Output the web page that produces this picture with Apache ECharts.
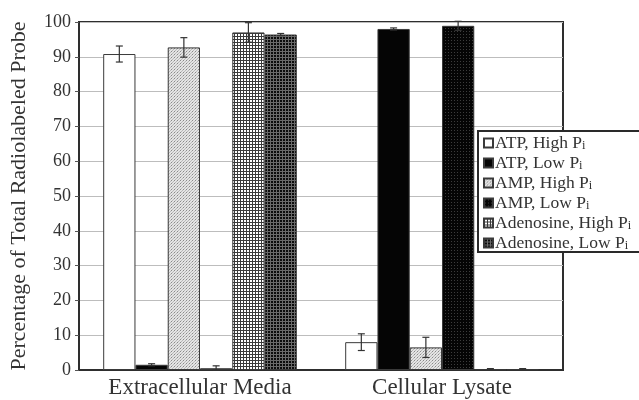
<!DOCTYPE html>
<html>
<head>
<meta charset="utf-8">
<script src="https://cdn.jsdelivr.net/npm/echarts@6/dist/echarts.min.js"></script>
<style>
html,body{margin:0;padding:0;background:#fff;}
#chart{width:639px;height:400px;}
</style>
</head>
<body>
<div id="chart"></div>
<script>
// Fractions (%) of radiolabeled probe recovered, per fraction and treatment
const categories = ['Extracellular Media', 'Cellular Lysate'];
const seriesNames = ['ATP, High P', 'ATP, Low P', 'AMP, High P', 'AMP, Low P', 'Adenosine, High P', 'Adenosine, Low P'];
const atpHigh   = [90.8, 8.0];
const atpLow    = [1.5, 98.0];
const ampHigh   = [92.7, 6.5];
const ampLow    = [0.5, 98.9];
const adenHigh  = [97.0, 0.2];
const adenLow   = [96.4, 0.2];
const atpHighErr  = [2.3, 2.4];
const atpLowErr   = [0.3, 0.3];
const ampHighErr  = [2.8, 2.9];
const ampLowErr   = [0.7, 1.3];
const adenHighErr = [2.8, 0.2];
const adenLowErr  = [0.3, 0.2];
const yTicks = [0, 10, 20, 30, 40, 50, 60, 70, 80, 90, 100];

const values = [atpHigh, atpLow, ampHigh, ampLow, adenHigh, adenLow];
const errors = [atpHighErr, atpLowErr, ampHighErr, ampLowErr, adenHighErr, adenLowErr];

// small repeating fill textures
function makePattern(w, h, bg, draw) {
  const c = document.createElement('canvas');
  c.width = w; c.height = h;
  const g = c.getContext('2d');
  g.fillStyle = bg; g.fillRect(0, 0, w, h);
  draw(g);
  return { image: c, repeat: 'repeat' };
}
const stipple = makePattern(3, 3, '#e4e4e4', g => {
  g.fillStyle = '#8a8a8a'; g.fillRect(0, 0, 1, 1);
  g.fillStyle = '#b8b8b8'; g.fillRect(2, 1, 1, 1); g.fillRect(1, 2, 1, 1);
});
const lightGrid = makePattern(3, 3, '#ffffff', g => {
  g.fillStyle = '#3a3a3a'; g.fillRect(0, 0, 3, 1); g.fillRect(0, 0, 1, 3);
});
const darkGrid = makePattern(3, 3, '#0c0c0c', g => {
  g.fillStyle = '#6a6a6a'; g.fillRect(0, 0, 3, 1); g.fillRect(0, 0, 1, 3);
});
const darkDots = makePattern(3, 3, '#050505', g => {
  g.fillStyle = '#3c3c3c'; g.fillRect(1, 1, 1, 1);
});
const fills = ['#ffffff', '#050505', stipple, darkDots, lightGrid, darkGrid];

const GAP = 0.2; // barCategoryGap
const SERIF = '"Liberation Serif", "DejaVu Serif", serif';
const series = [];
seriesNames.forEach((name, i) => {
  series.push({
    name: name,
    type: 'bar',
    data: values[i],
    barGap: '0%',
    barCategoryGap: '20%',
    itemStyle: { color: fills[i], borderColor: '#3a3a3a', borderWidth: 1 },
    emphasis: { disabled: true }
  });
});
// error bars drawn on top of each bar
seriesNames.forEach((name, i) => {
  series.push({
    type: 'custom',
    name: name + ' err',
    z: 5,
    data: values[i].map((v, k) => [k, v, errors[i][k]]),
    renderItem: function (params, api) {
      const k = api.value(0), v = api.value(1), e = api.value(2);
      const band = api.size([1, 0])[0];
      const bw = band * (1 - GAP) / 6;
      const center = api.coord([k, 0])[0];
      const x = center - band * (1 - GAP) / 2 + bw * (i + 0.5);
      const yTop = api.coord([k, v + e])[1];
      const yBot = api.coord([k, Math.max(v - e, 0)])[1];
      const cap = 3.5;
      const st = { stroke: '#333', lineWidth: 1.2, fill: null };
      return {
        type: 'group',
        children: [
          { type: 'line', shape: { x1: x, y1: yTop, x2: x, y2: yBot }, style: st },
          { type: 'line', shape: { x1: x - cap, y1: yTop, x2: x + cap, y2: yTop }, style: st },
          { type: 'line', shape: { x1: x - cap, y1: yBot, x2: x + cap, y2: yBot }, style: st }
        ]
      };
    }
  });
});

const chart = echarts.init(document.getElementById('chart'), null, { renderer: 'canvas' });
chart.setOption({
  animation: false,
  backgroundColor: '#ffffff',
  textStyle: { fontFamily: SERIF },
  grid: {
    left: 79, right: 76, top: 22, bottom: 30,
    show: true, borderColor: '#2e2e2e', borderWidth: 2, backgroundColor: 'transparent'
  },
  legend: {
    orient: 'vertical',
    left: 478, top: 131,
    data: seriesNames,
    backgroundColor: '#ffffff',
    borderColor: '#2a2a2a', borderWidth: 2, borderRadius: 0,
    padding: [1, 30, 0, 5],
    itemWidth: 9, itemHeight: 9, itemGap: 0,
    icon: 'rect',
    selectedMode: false,
    formatter: n => n + '{sub|i}',
    textStyle: {
      fontFamily: SERIF, fontSize: 17.5, color: '#333', lineHeight: 18, height: 18,
      padding: [0, 0, 0, -3],
      rich: {
        sub: { fontFamily: SERIF, fontSize: 12.5, color: '#333', lineHeight: 18, padding: [7, 0, 0, 0], verticalAlign: 'bottom' }
      }
    }
  },
  xAxis: {
    type: 'category',
    data: categories,
    axisLine: { lineStyle: { color: '#2e2e2e', width: 2 } },
    axisTick: { show: false },
    axisLabel: { fontFamily: SERIF, fontSize: 23, color: '#333', margin: 6 }
  },
  yAxis: {
    type: 'value',
    min: yTicks[0], max: yTicks[yTicks.length - 1], interval: 10,
    name: 'Percentage of Total Radiolabeled Probe',
    nameLocation: 'middle', nameGap: 49, nameRotate: 90,
    nameTextStyle: { fontFamily: SERIF, fontSize: 22, color: '#333' },
    axisLine: { show: true, lineStyle: { color: '#2e2e2e', width: 2 } },
    axisTick: { show: true, length: 4, lineStyle: { color: '#555' } },
    axisLabel: { fontFamily: SERIF, fontSize: 18, color: '#333', margin: 8 },
    splitLine: { lineStyle: { color: '#bdbdbd', width: 1 } }
  },
  series: series
});
</script>
</body>
</html>
